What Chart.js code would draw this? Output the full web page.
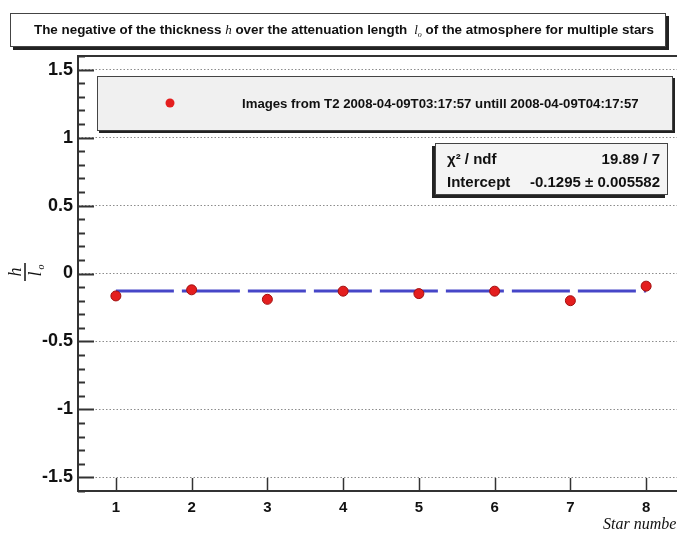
<!DOCTYPE html>
<html>
<head>
<meta charset="utf-8">
<script src="https://cdn.jsdelivr.net/npm/chart.js@4"></script>
<style>
  html, body { margin: 0; padding: 0; background: #fff; overflow: hidden; }
  #wrap { width: 700px; height: 533px; }
</style>
</head>
<body>
<div id="wrap"><canvas id="myChart" width="700" height="533"></canvas></div>
<script>
// star number and -h/l0 value per star
const stars = [1, 2, 3, 4, 5, 6, 7, 8];
const ratio = [-0.165, -0.12, -0.19, -0.13, -0.148, -0.13, -0.20, -0.093];
const ratioErr = [0.01, 0.01, 0.01, 0.01, 0.01, 0.01, 0.025, 0.01];

// constant fit
const intercept = -0.1295;
const interceptErr = 0.005582;
const chi2 = '19.89 / 7';

const xTicks = [1, 2, 3, 4, 5, 6, 7, 8];
const legendLabel = 'Images from T2 2008-04-09T03:17:57 untill 2008-04-09T04:17:57';

const SANS = '"Liberation Sans", Arial, sans-serif';
const SERIF = '"Liberation Serif", "Times New Roman", serif';

const isMajor = v => Math.abs(v * 2 - Math.round(v * 2)) < 1e-6;

function box(ctx, x, y, w, h, fill, shadow, sw) {
    ctx.save();
    ctx.fillStyle = '#222';
    if (shadow === 'br') ctx.fillRect(x + sw, y + sw, w, h);
    if (shadow === 'bl') ctx.fillRect(x - sw, y + sw, w, h);
    ctx.fillStyle = fill;
    ctx.fillRect(x, y, w, h);
    ctx.strokeStyle = '#444';
    ctx.lineWidth = 1;
    ctx.strokeRect(x + 0.5, y + 0.5, w - 1, h - 1);
    ctx.restore();
}

function drawRuns(ctx, runs, cx, y) {
    let total = 0;
    runs.forEach(r => { ctx.font = r.font; r.w = ctx.measureText(r.text).width; total += r.w; });
    let x = cx - total / 2;
    runs.forEach(r => {
        ctx.font = r.font;
        ctx.fillText(r.text, x, y + (r.dy || 0));
        x += r.w;
    });
}

const decor = {
    id: 'decor',
    beforeDatasetsDraw(chart) {
        const {ctx, scales: {x, y}} = chart;
        ctx.save();
        ctx.strokeStyle = '#8a1010';
        ctx.lineWidth = 1.5;
        stars.forEach((s, i) => {
            const px = x.getPixelForValue(s);
            ctx.beginPath();
            ctx.moveTo(px, y.getPixelForValue(ratio[i] - ratioErr[i]));
            ctx.lineTo(px, y.getPixelForValue(ratio[i] + ratioErr[i]));
            ctx.stroke();
        });
        ctx.restore();
    },
    afterDraw(chart) {
        const {ctx, chartArea: a, scales: {x, y}} = chart;
        ctx.save();

        // frame
        ctx.strokeStyle = '#333';
        ctx.lineWidth = 2;
        ctx.strokeRect(a.left, a.top, a.right - a.left, a.bottom - a.top);

        // y ticks (inside)
        ctx.lineWidth = 2;
        y.ticks.forEach(t => {
            const py = Math.round(y.getPixelForValue(t.value)) + 0.5;
            const len = isMajor(t.value) ? 16 : 7;
            ctx.beginPath();
            ctx.moveTo(a.left, py);
            ctx.lineTo(a.left + len, py);
            ctx.stroke();
        });
        // x ticks (inside)
        ctx.lineWidth = 1.5;
        x.ticks.forEach(t => {
            const px = Math.round(x.getPixelForValue(t.value)) + 0.5;
            ctx.beginPath();
            ctx.moveTo(px, a.bottom);
            ctx.lineTo(px, a.bottom - 13);
            ctx.stroke();
        });

        // title box
        box(ctx, 10, 13, 656, 34, '#fff', 'br', 3);
        ctx.fillStyle = '#111';
        ctx.textBaseline = 'alphabetic';
        const tb = `bold 13.4px ${SANS}`;
        const ti = `italic 13px ${SERIF}`;
        drawRuns(ctx, [
            {text: 'The negative of the thickness ', font: tb},
            {text: 'h', font: ti},
            {text: ' over the attenuation length ', font: tb},
            {text: ' l', font: ti},
            {text: 'o', font: `italic 8px ${SERIF}`, dy: 3},
            {text: ' of the atmosphere for multiple stars', font: tb}
        ], 344, 34);

        // legend box
        box(ctx, 97, 76, 576, 55, '#f0f0f0', 'br', 2);
        ctx.fillStyle = '#e41e1e';
        ctx.beginPath();
        ctx.arc(170, 103, 4.5, 0, Math.PI * 2);
        ctx.fill();
        ctx.fillStyle = '#111';
        ctx.font = `bold 13.2px ${SANS}`;
        ctx.textAlign = 'left';
        ctx.textBaseline = 'middle';
        ctx.fillText(legendLabel, 242, 104);

        // stats box
        box(ctx, 435, 143, 233, 52, '#f4f4f4', 'bl', 3);
        ctx.fillStyle = '#111';
        ctx.font = `bold 15px ${SANS}`;
        ctx.textAlign = 'left';
        ctx.fillText('\u03c7\u00b2 / ndf', 447, 160);
        ctx.fillText('Intercept', 447, 183);
        ctx.textAlign = 'right';
        ctx.fillText(chi2, 660, 160);
        ctx.fillText(intercept.toFixed(4) + ' \u00b1 ' + interceptErr.toFixed(6), 660, 183);

        // y axis title: h / l_o (rotated)
        ctx.save();
        ctx.translate(25, 272);
        ctx.rotate(-Math.PI / 2);
        ctx.textAlign = 'center';
        ctx.textBaseline = 'alphabetic';
        ctx.font = `italic 18px ${SERIF}`;
        ctx.fillText('h', 0, -4);
        ctx.fillText('l', -2, 16);
        ctx.font = `italic 10px ${SERIF}`;
        ctx.fillText('o', 5, 19);
        ctx.lineWidth = 1.5;
        ctx.strokeStyle = '#111';
        ctx.beginPath();
        ctx.moveTo(-9, 0);
        ctx.lineTo(9, 0);
        ctx.stroke();
        ctx.restore();

        // x axis title
        ctx.font = `italic 16px ${SERIF}`;
        ctx.textAlign = 'left';
        ctx.textBaseline = 'alphabetic';
        ctx.fillText('Star number', 603, 529);

        ctx.restore();
    }
};

const ctx = document.getElementById('myChart');

const config = {
    data: {
        datasets: [{
            type: 'scatter',
            data: stars.map((s, i) => ({x: s, y: ratio[i]})),
            backgroundColor: '#e41e1e',
            borderColor: '#a01010',
            borderWidth: 1,
            pointRadius: 5,
            order: 0
        }, {
            type: 'line',
            data: [{x: stars[0], y: intercept}, {x: stars[stars.length - 1], y: intercept}],
            borderColor: '#4646c8',
            borderWidth: 3,
            borderDash: [58, 8],
            pointRadius: 0,
            fill: false,
            order: 1
        }]
    },
    options: {
        responsive: false,
        animation: false,
        layout: {padding: {left: 0, top: 56, right: 16, bottom: 0}},
        scales: {
            x: {
                type: 'linear',
                min: 0.5,
                max: 8.5,
                afterBuildTicks: s => { s.ticks = xTicks.map(v => ({value: v})); },
                afterFit: s => { s.height = 42; },
                grid: {display: false, drawTicks: false},
                border: {display: false},
                ticks: {
                    padding: 8,
                    color: '#111',
                    font: {family: SANS, size: 15, weight: 'bold'},
                    callback: v => String(v)
                }
            },
            y: {
                min: -1.6,
                max: 1.6,
                afterFit: s => { s.width = 78; },
                grid: {
                    drawTicks: false,
                    color: c => isMajor(c.tick.value) ? '#8c8c8c' : 'rgba(0,0,0,0)',
                    lineWidth: 1
                },
                border: {display: false, dash: [1.5, 2]},
                ticks: {
                    stepSize: 0.1,
                    autoSkip: false,
                    padding: 5,
                    color: '#111',
                    font: {family: SANS, size: 18, weight: 'bold'},
                    callback: v => isMajor(v) ? String(Math.round(v * 2) / 2) : ''
                }
            }
        },
        plugins: {
            legend: {display: false},
            tooltip: {enabled: false}
        }
    },
    plugins: [decor]
};

const myChart = new Chart(ctx, config);
</script>
</body>
</html>
